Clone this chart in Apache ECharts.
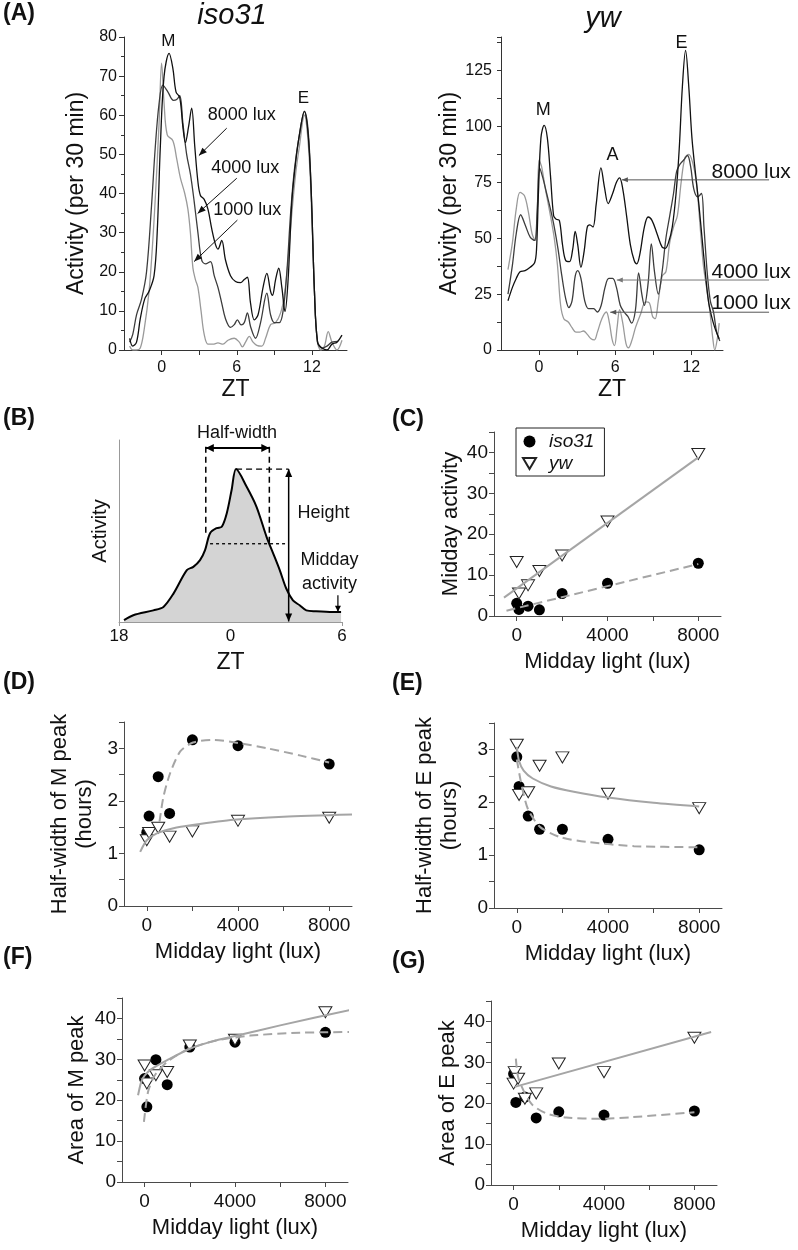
<!DOCTYPE html>
<html><head><meta charset="utf-8">
<script src="https://cdn.jsdelivr.net/npm/echarts@6/dist/echarts.min.js"></script>
<style>html,body{margin:0;padding:0;background:#fff}#c{width:798px;height:1250px}</style>
</head><body><div id="c"></div>
<script>
// ---------- Panel A : activity profiles, [ZT hour, activity per 30 min] ----------
const isoA_1000 = [[-2.55,1],[-2.3,0],[-2.0,0],[-1.7,0.5],[-1.4,5],[-1.0,15],[-0.7,28],[-0.45,42],[-0.2,58],[0.0,73.3],[0.2,63],[0.45,55],[0.9,53.5],[1.2,49],[1.5,44],[1.85,40],[2.1,36],[2.3,30],[2.5,21],[2.7,18],[2.9,16],[3.15,10],[3.4,4],[3.7,1.5],[4.1,1.5],[4.5,1.8],[4.9,1.5],[5.3,2.5],[5.8,3],[6.2,2],[6.45,0.8],[6.7,2],[7.0,3.5],[7.3,2],[7.6,1.2],[8.0,1],[8.3,3],[8.7,6.5],[9.1,7],[9.5,9.5],[9.8,14],[10.1,23],[10.4,35],[10.7,45],[11.0,52],[11.4,60],[11.65,55],[11.9,42],[12.2,15],[12.4,3],[12.7,0],[13.0,1],[13.3,4.7],[13.6,2],[14.0,0],[14.4,2.5]];
const isoA_4000 = [[-2.55,2],[-2.3,4],[-2.0,9],[-1.6,13],[-1.2,20],[-0.8,37],[-0.5,52],[-0.2,63],[0.1,67.7],[0.5,66],[0.95,63.8],[1.2,64],[1.45,65],[1.7,58],[2.0,50],[2.3,45],[2.6,38],[2.9,30],[3.2,23],[3.5,22],[3.9,22.6],[4.2,19],[4.5,16],[4.8,12],[5.1,8],[5.5,5.8],[5.8,6.5],[6.05,7.7],[6.35,6.4],[6.6,7],[6.85,9.5],[7.1,6],[7.5,3],[7.9,7],[8.4,14.5],[8.7,9],[9.0,7],[9.4,7],[9.7,10],[10.0,20],[10.3,35],[10.6,46],[11.0,55],[11.4,61],[11.7,56],[11.95,40],[12.2,15],[12.45,2],[12.8,0.5],[13.2,1],[13.6,2],[14.1,2.2]];
const isoA_8000 = [[-2.55,3],[-2.3,1],[-2.0,2],[-1.7,8],[-1.35,13],[-1.0,15],[-0.6,19],[-0.35,30],[-0.1,52],[0.2,70],[0.6,75.8],[0.9,72],[1.15,66],[1.45,64.5],[1.7,57],[1.9,53],[2.15,57],[2.4,61.8],[2.65,52],[2.9,43],[3.1,39.5],[3.4,38.5],[3.7,36],[4.0,31],[4.3,27],[4.5,25.8],[4.8,28],[5.1,23],[5.5,19],[5.9,17.5],[6.3,17.2],[6.6,18],[6.85,18.6],[7.1,12],[7.4,7.7],[7.7,9],[8.1,16],[8.4,19.6],[8.7,15],[8.85,14],[9.1,18],[9.35,20.9],[9.6,16],[9.85,9.8],[10.1,18],[10.4,38],[10.7,48],[11.0,55],[11.4,61],[11.7,55],[11.95,40],[12.2,15],[12.45,2],[12.8,0.5],[13.2,0],[13.6,1.5],[14.0,2],[14.4,3.8]];
const ywA_1000 = [[-2.45,36],[-2.1,48],[-1.8,63],[-1.5,70.5],[-1.15,69],[-0.85,62],[-0.55,52],[-0.3,49],[-0.15,60],[0.0,85],[0.2,82],[0.5,72],[0.9,60],[1.2,50],[1.45,38],[1.7,20],[1.95,14],[2.3,12.5],[2.6,10],[2.9,8],[3.2,8],[3.5,8.5],[3.8,7],[4.1,5],[4.35,4.5],[4.6,8],[4.95,14],[5.3,17],[5.55,12],[5.75,5],[5.95,2],[6.15,10],[6.35,18],[6.6,12],[6.85,3],[7.05,1],[7.3,4],[7.6,10],[8.0,16],[8.4,21.5],[8.7,21],[8.95,15],[9.15,14],[9.4,22],[9.7,33],[10.0,35],[10.3,48],[10.6,55],[10.9,60],[11.2,75],[11.5,86],[11.8,87.5],[12.1,84],[12.4,75],[12.7,55],[12.95,38],[13.2,28],[13.45,18],[13.7,5],[13.85,0],[14.05,5],[14.2,12]];
const ywA_4000 = [[-2.45,25],[-2.1,38],[-1.8,52],[-1.45,60.5],[-1.1,56],[-0.7,50.5],[-0.35,49],[-0.15,62],[0.05,81.5],[0.3,77],[0.6,70],[0.9,63],[1.2,55],[1.5,45],[1.8,33],[2.1,23],[2.35,19],[2.6,22],[2.85,33],[3.05,35.5],[3.3,32],[3.6,22],[3.9,18.5],[4.3,18.5],[4.6,17],[4.9,20],[5.2,28],[5.5,32],[5.8,32],[6.1,28],[6.4,20],[6.7,17],[7.0,15],[7.3,12],[7.6,18],[7.85,34.5],[8.1,25],[8.3,20],[8.6,30],[8.85,47.5],[9.1,35],[9.4,25],[9.7,35],[10.0,50],[10.3,60],[10.6,70],[10.85,80],[11.1,83],[11.4,85],[11.7,87],[11.95,82],[12.2,72],[12.5,68.5],[12.8,70],[13.0,55],[13.25,35],[13.5,22],[13.75,17],[14.0,8],[14.25,4]];
const ywA_8000 = [[-2.45,22],[-2.1,28],[-1.8,32],[-1.5,35],[-1.1,35.5],[-0.7,37],[-0.35,39],[-0.2,45],[-0.05,70],[0.15,95],[0.4,100.5],[0.65,95],[0.9,78],[1.15,60],[1.35,58.5],[1.6,58],[1.85,47],[2.1,40],[2.4,39.5],[2.65,45],[2.85,53],[3.05,47],[3.3,37],[3.55,44],[3.8,55],[4.0,56],[4.25,55],[4.5,65],[4.88,81.5],[5.15,73],[5.45,65.5],[5.8,70],[6.1,75],[6.35,77],[6.6,72],[6.9,60],[7.2,47],[7.5,40],[7.7,38.5],[7.95,43],[8.3,55],[8.6,59.5],[8.9,58],[9.3,52],[9.7,46],[9.95,45.5],[10.2,48],[10.5,55],[10.8,70],[11.05,90],[11.3,118],[11.55,134],[11.8,118],[12.05,95],[12.35,78],[12.6,65],[12.85,50],[13.1,35],[13.35,22],[13.6,15],[13.85,10],[14.2,5]];
const aZtTicks = [0, 3, 6, 9, 12];
const aZtLabels = [0, 6, 12];

// ---------- Panel B : schematic peak ----------
const bZT  = [18.27,18.77,19.85,20.39,20.93,21.65,22.0,22.36,22.63,22.9,23.26,23.53,23.8,24.06,24.3,24.87,25.4,25.94,26.3,26.65,27.0,27.36,27.72,28.08,28.6,29.5,29.95];
const bAct = [1,3.7,6.4,8.3,15.6,28.5,30.3,34,39.5,48.8,51.6,52.3,59.8,72.5,84,74.3,63.3,46.8,37.6,28.5,18.4,11.9,9.2,6.4,5.9,5.5,5.5];
const bZtLabels = [18, 24, 30];

// ---------- Panels C-G : vs midday light (lux) ----------
const luxTicks = [0, 2000, 4000, 6000, 8000];
const luxLabels = [0, 4000, 8000];
const lux7 = [0, 100, 500, 1000, 2000, 4000, 8000];

const valC_iso = [3.1, 1.6, 2.4, 1.5, 5.5, 8.0, 12.9];
const valC_yw  = [13.2, 5.5, 7.5, 11.0, 14.8, 23.1, 39.6];
const fitC_iso = [[-450,1.3],[8000,12.7]];
const fitC_yw  = [[-560,4.5],[8000,38.8]];

const valD_iso = [1.40, 1.71, 2.46, 1.76, 3.16, 3.05, 2.70];
const valD_yw  = [1.25, 1.39, 1.49, 1.32, 1.42, 1.62, 1.68];
const fitD_iso = [[555,1.60],[731,2.08],[1026,2.53],[1466,2.94],[2026,3.11],[2933,3.16],[4007,3.10],[5284,3.00],[6752,2.86],[7996,2.73]];
const fitD_yw  = [[-290,1.03],[0,1.25],[440,1.38],[1170,1.48],[2000,1.54],[3800,1.64],[6000,1.70],[9000,1.74]];

const valE_iso = [2.86, 2.30, 1.74, 1.49, 1.49, 1.30, 1.10];
const valE_yw  = [3.09, 2.14, 2.19, 2.69, 2.85, 2.16, 1.89];
const fitE_iso = [[0,2.81],[220,2.30],[500,1.86],[1030,1.53],[1910,1.34],[3080,1.25],[5140,1.17],[8000,1.15]];
const fitE_yw  = [[0,3.05],[100,2.78],[300,2.60],[700,2.45],[1500,2.30],[2500,2.20],[4000,2.09],[6000,1.99],[8000,1.92]];

const valF_iso = [25.3, 18.4, 29.9, 23.8, 33.0, 34.2, 36.6];
const valF_yw  = [28.5, 24.1, 26.1, 26.9, 33.4, 34.8, 41.5];
const fitF_iso = [[-30,14.7],[150,22.0],[440,26.0],[1000,29.4],[1900,32.4],[3070,34.5],[4680,35.8],[6870,36.5],[9430,36.7]];
const fitF_yw  = [[-290,21.2],[-150,24.5],[0,26.0],[300,27.6],[1000,29.8],[2000,32.6],[3000,34.4],[4000,35.7],[6000,38.3],[9270,42.3]];

const valG_iso = [27.2, 20.2, 21.5, 16.4, 17.9, 17.1, 18.1];
const luxG_yw  = [0, 50, 200, 500, 1000, 2000, 4000, 8000];
const valG_yw  = [24.8, 27.6, 26.0, 21.1, 22.4, 29.7, 27.6, 36.0];
const fitG_iso = [[100,30.9],[200,26.4],[500,22.4],[850,19.5],[1450,17.5],[2330,16.5],[3800,16.2],[5270,16.6],[8000,17.8]];
const fitG_yw  = [[50,24.0],[8740,37.4]];

// ---------- styling / helpers ----------
const F = '"Liberation Sans", Arial, Helvetica, sans-serif';
const TRI = 'path://M0,0L20,0L10,17Z';
const AXC = '#4a4a4a';
const pairs = (xs, ys) => xs.map((x, i) => [x, ys[i]]);

const grids = [
  {left:124, top:37,  width:223, height:313},
  {left:501, top:37,  width:222, height:313},
  {left:119, top:440, width:223, height:182},
  {left:494, top:432, width:227, height:184},
  {left:124, top:722, width:228, height:184},
  {left:494, top:723, width:228, height:185},
  {left:122, top:998, width:226, height:184},
  {left:491, top:1001, width:226, height:184}
];

function ztAxis(g, max) {
  return {gridIndex:g, type:'value', min:-3, max:max,
    axisLine:{show:true, onZero:false, lineStyle:{color:'#333'}},
    axisTick:{show:true, customValues:aZtTicks, length:5, lineStyle:{color:'#333'}},
    axisLabel:{customValues:aZtLabels, fontSize:16, color:'#111', margin:10, fontFamily:F, formatter: v => String(v)},
    splitLine:{show:false},
    name:'ZT', nameLocation:'middle', nameGap:28, nameTextStyle:{fontSize:23, color:'#111', fontFamily:F}};
}
function luxAxis(g) {
  return {gridIndex:g, type:'value', min:-1000, max:9000,
    axisLine:{show:true, onZero:false, lineStyle:{color:AXC}},
    axisTick:{show:true, customValues:luxTicks, length:5, lineStyle:{color:AXC}},
    axisLabel:{customValues:luxLabels, fontSize:19, color:'#111', margin:10, fontFamily:F, formatter: v => String(v)},
    splitLine:{show:false},
    name:'Midday light (lux)', nameLocation:'middle', nameGap:35, nameTextStyle:{fontSize:22, color:'#111', fontFamily:F}};
}
function valAxis(g, max, interval, step, name, gap, color, fs) {
  return {gridIndex:g, type:'value', min:0, max:max, interval:interval,
    axisLine:{show:true, onZero:false, lineStyle:{color:color}},
    axisTick:{show:true, length:5, lineStyle:{color:color}},
    axisLabel:{fontSize:fs, color:'#111', margin:6, fontFamily:F,
      formatter: v => (Math.abs(v/step - Math.round(v/step)) < 1e-6 && v < max) ? String(v) : ''},
    splitLine:{show:false},
    name:name, nameLocation:'middle', nameRotate:90, nameGap:gap,
    nameTextStyle:{fontSize:22, color:'#111', fontFamily:F, lineHeight:25, align:'center'}};
}

function curve(name, data, g, color) {
  return {type:'line', name, xAxisIndex:g, yAxisIndex:g, data, smooth:0.35, symbol:'none', showSymbol:false,
    lineStyle:{color, width:1.3}, silent:true, z:2};
}
function dots(name, data, g) {
  return {type:'scatter', name, xAxisIndex:g, yAxisIndex:g, data, symbol:'circle', symbolSize:11,
    itemStyle:{color:'#000', opacity:1}, silent:true, z:3};
}
function tris(name, data, g) {
  return {type:'scatter', name, xAxisIndex:g, yAxisIndex:g, data, symbol:TRI, symbolSize:[13,11],
    itemStyle:{color:'#fff', borderColor:'#222', borderWidth:1, opacity:1}, silent:true, z:3};
}
function fit(name, data, g, dashed) {
  return {type:'line', name, xAxisIndex:g, yAxisIndex:g, data, smooth:0.25, symbol:'none', showSymbol:false,
    clip:false, lineStyle:{color:'#a5a5a5', width:2, type: dashed ? [9,5] : 'solid'}, silent:true, z:4};
}

const aYLeft = {gridIndex:0, type:'value', min:0, max:80, interval:10,
  axisLine:{show:true, onZero:false, lineStyle:{color:'#333'}},
  axisTick:{show:true, length:5, lineStyle:{color:'#333'}},
  minorTick:{show:true, splitNumber:2, length:3, lineStyle:{color:'#333'}},
  axisLabel:{fontSize:16, color:'#111', margin:7, fontFamily:F},
  splitLine:{show:false}, minorSplitLine:{show:false},
  name:'Activity (per 30 min)', nameLocation:'middle', nameRotate:90, nameGap:36,
  nameTextStyle:{fontSize:23, color:'#111', fontFamily:F}};
const aYRight = {gridIndex:1, type:'value', min:0, max:140, interval:12.5,
  axisLine:{show:true, onZero:false, lineStyle:{color:'#333'}},
  axisTick:{show:true, length:4, lineStyle:{color:'#333'}},
  axisLabel:{fontSize:16, color:'#111', margin:9, fontFamily:F,
    formatter: v => (v % 25 === 0 && v <= 125) ? String(v) : ''},
  splitLine:{show:false},
  name:'Activity (per 30 min)', nameLocation:'middle', nameRotate:90, nameGap:36,
  nameTextStyle:{fontSize:23, color:'#111', fontFamily:F}};
const bX = {gridIndex:2, type:'value', min:18, max:30,
  axisLine:{show:true, onZero:false, lineStyle:{color:'#999'}},
  axisTick:{show:true, customValues:[18,30], length:4, lineStyle:{color:'#999'}},
  axisLabel:{customValues:bZtLabels, fontSize:17, color:'#111', margin:6, fontFamily:F,
    formatter: v => String(v >= 24 ? v - 24 : v)},
  splitLine:{show:false},
  name:'ZT', nameLocation:'middle', nameGap:29, nameTextStyle:{fontSize:23, color:'#111', fontFamily:F}};
const bY = {gridIndex:2, type:'value', min:0, max:100,
  axisLine:{show:true, onZero:false, lineStyle:{color:'#999'}},
  axisTick:{show:false}, axisLabel:{show:false}, splitLine:{show:false},
  name:'Activity', nameLocation:'middle', nameRotate:90, nameGap:9,
  nameTextStyle:{fontSize:20, color:'#111', fontFamily:F}};

const option = {
  animation:false,
  backgroundColor:'#fff',
  textStyle:{fontFamily:F},
  grid: grids,
  legend: {
    data:[{name:'iso31', icon:'circle'}, {name:'yw', icon:TRI}],
    orient:'vertical', left:516, top:428, selectedMode:false,
    borderColor:'#222', borderWidth:1, borderRadius:0, padding:[4,10,3,6], itemGap:3,
    itemWidth:13, itemHeight:12,
    textStyle:{fontStyle:'italic', fontSize:19, color:'#111', fontFamily:F, padding:[0,0,0,8]}
  },
  xAxis: [ztAxis(0, 14.8), ztAxis(1, 14.5), bX, luxAxis(3), luxAxis(4), luxAxis(5), luxAxis(6), luxAxis(7)],
  yAxis: [aYLeft, aYRight, bY,
    valAxis(3, 45, 5, 10, 'Midday activity', 27, AXC, 19),
    valAxis(4, 3.5, 0.5, 1, 'Half-width of M peak\n(hours)', 27, AXC, 19),
    valAxis(5, 3.5, 0.5, 1, 'Half-width of E peak\n(hours)', 32, AXC, 19),
    valAxis(6, 45, 5, 10, 'Area of M peak', 33, AXC, 19),
    valAxis(7, 45, 5, 10, 'Area of E peak', 30, AXC, 19)],
  series: [
    dots('iso31', pairs(lux7, valC_iso), 3),
    tris('yw', pairs(lux7, valC_yw), 3),
    fit('iso31 fit C', fitC_iso, 3, true),
    fit('yw fit C', fitC_yw, 3, false),

    curve('iso31 1000 lux', isoA_1000, 0, '#9a9a9a'),
    curve('iso31 4000 lux', isoA_4000, 0, '#3c3c3c'),
    curve('iso31 8000 lux', isoA_8000, 0, '#111'),
    curve('yw 1000 lux', ywA_1000, 1, '#9a9a9a'),
    curve('yw 4000 lux', ywA_4000, 1, '#3c3c3c'),
    curve('yw 8000 lux', ywA_8000, 1, '#111'),

    {type:'line', name:'schematic', xAxisIndex:2, yAxisIndex:2, data:pairs(bZT, bAct), smooth:0.3, symbol:'none',
      showSymbol:false, lineStyle:{color:'#000', width:2}, areaStyle:{color:'#d4d4d4', opacity:1}, silent:true},

    dots('iso31 D', pairs(lux7, valD_iso), 4), tris('yw D', pairs(lux7, valD_yw), 4),
    fit('iso31 fit D', fitD_iso, 4, true), fit('yw fit D', fitD_yw, 4, false),
    dots('iso31 E', pairs(lux7, valE_iso), 5), tris('yw E', pairs(lux7, valE_yw), 5),
    fit('iso31 fit E', fitE_iso, 5, true), fit('yw fit E', fitE_yw, 5, false),
    dots('iso31 F', pairs(lux7, valF_iso), 6), tris('yw F', pairs(lux7, valF_yw), 6),
    fit('iso31 fit F', fitF_iso, 6, true), fit('yw fit F', fitF_yw, 6, false),
    dots('iso31 G', pairs(lux7, valG_iso), 7), tris('yw G', pairs(luxG_yw, valG_yw), 7),
    fit('iso31 fit G', fitG_iso, 7, true), fit('yw fit G', fitG_yw, 7, false)
  ]
};

const chart = echarts.init(document.getElementById('c'), null, {renderer:'canvas'});
chart.setOption(option);

// ---------- annotations ----------
const P = (g, x, y) => chart.convertToPixel({gridIndex:g}, [x, y]);
const G = [];
function txt(x, y, s, o) {
  o = o || {};
  G.push({type:'text', x:x, y:y, z:100, silent:true, style:{text:s, fill:o.color || '#111',
    fontSize:o.size || 18, fontFamily:F, fontStyle:o.style || 'normal', fontWeight:o.weight || 'normal',
    align:o.align || 'center', verticalAlign:o.valign || 'middle',
    textAlign:o.align || 'center', textVerticalAlign:o.valign || 'middle'}});
}
function dtxt(g, x, y, s, o) { const p = P(g, x, y); txt(p[0], p[1], s, o); }
function seg(p1, p2, o) {
  G.push({type:'line', z:100, silent:true, shape:{x1:p1[0], y1:p1[1], x2:p2[0], y2:p2[1]},
    style:{stroke:o.color || '#000', lineWidth:o.width || 1, lineDash:o.dash || null}});
}
function head(from, tip, L, W, color) {
  const dx = tip[0]-from[0], dy = tip[1]-from[1], n = Math.hypot(dx, dy) || 1;
  const ux = dx/n, uy = dy/n, bx = tip[0]-ux*L, by = tip[1]-uy*L;
  G.push({type:'polygon', z:101, silent:true,
    shape:{points:[[tip[0],tip[1]],[bx-uy*W, by+ux*W],[bx+uy*W, by-ux*W]]}, style:{fill:color}});
}
function darrow(g, a, b, o) {
  const p1 = P(g, a[0], a[1]), p2 = P(g, b[0], b[1]);
  seg(p1, p2, o);
  head(p1, p2, o.L || 8, o.W || 3.5, o.color || '#000');
  if (o.both) head(p2, p1, o.L || 8, o.W || 3.5, o.color || '#000');
}
function dline(g, a, b, o) { seg(P(g, a[0], a[1]), P(g, b[0], b[1]), o); }

// panel letters & titles
txt(3, 14, '(A)', {size:23, weight:'bold', align:'left'});
txt(3, 419, '(B)', {size:23, weight:'bold', align:'left'});
txt(392, 420, '(C)', {size:23, weight:'bold', align:'left'});
txt(3, 683, '(D)', {size:23, weight:'bold', align:'left'});
txt(392, 684, '(E)', {size:23, weight:'bold', align:'left'});
txt(3, 958, '(F)', {size:23, weight:'bold', align:'left'});
txt(392, 962, '(G)', {size:23, weight:'bold', align:'left'});
txt(232, 16, 'iso31', {size:29, style:'italic'});
txt(603, 19, 'yw', {size:29, style:'italic'});

// panel A left
dtxt(0, 0.53, 78.8, 'M', {size:17});
dtxt(0, 11.33, 64.3, 'E', {size:17});
dtxt(0, 6.4, 60.1, '8000 lux', {size:18});
dtxt(0, 6.68, 46.4, '4000 lux', {size:18});
dtxt(0, 6.84, 35.8, '1000 lux', {size:18});
darrow(0, [5.2, 56.7], [2.98, 49.7], {color:'#111', width:1, L:8, W:3.2});
darrow(0, [6.0, 43.9], [2.88, 34.9], {color:'#111', width:1, L:8, W:3.2});
darrow(0, [6.05, 33.2], [2.6, 22.6], {color:'#111', width:1, L:8, W:3.2});

// panel A right
dtxt(1, 0.34, 107.4, 'M', {size:18});
dtxt(1, 5.79, 87.3, 'A', {size:18});
dtxt(1, 11.22, 137.3, 'E', {size:18});
dtxt(1, 13.59, 79.7, '8000 lux', {size:21, align:'left'});
dtxt(1, 13.59, 35.0, '4000 lux', {size:21, align:'left'});
dtxt(1, 13.59, 20.9, '1000 lux', {size:21, align:'left'});
darrow(1, [18.13, 76.1], [6.53, 76.1], {color:'#555', width:1, L:6, W:2.5});
darrow(1, [18.13, 31.3], [6.13, 31.3], {color:'#777', width:1, L:6, W:2.5});
darrow(1, [18.13, 16.9], [5.61, 16.9], {color:'#555', width:1, L:6, W:2.5});

// panel B schematic annotations
darrow(2, [22.67, 95.6], [26.09, 95.6], {color:'#000', width:2, L:8, W:4, both:true});
dline(2, [22.67, 96.3], [22.67, 47], {color:'#000', width:1.5, dash:[6,4]});
dline(2, [26.09, 96.3], [26.09, 43], {color:'#000', width:1.5, dash:[6,4]});
dline(2, [24.3, 84], [27.13, 84], {color:'#000', width:1.2, dash:[6,4]});
dline(2, [22.9, 43], [27.1, 43], {color:'#000', width:1.3, dash:[3,3]});
darrow(2, [27.13, 84], [27.13, 0.3], {color:'#000', width:1.5, L:8, W:3.5, both:true});
darrow(2, [29.78, 14.7], [29.78, 5.6], {color:'#000', width:1.2, L:6, W:3});
dtxt(2, 24.35, 103.9, 'Half-width', {size:18});
dtxt(2, 27.6, 59.9, 'Height', {size:18, align:'left'});
dtxt(2, 29.33, 34, 'Midday', {size:18});
dtxt(2, 29.33, 21, 'activity', {size:18});

chart.setOption({graphic: G});
</script>
</body></html>
